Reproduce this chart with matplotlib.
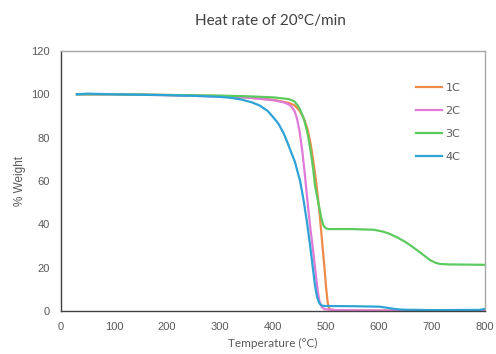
import matplotlib
matplotlib.use("Agg")
import matplotlib.pyplot as plt

# --- data ---
t_1c = [30, 100, 200, 300, 350, 400, 430, 440, 450, 458, 465, 471, 476, 480, 483, 487, 490,
        494, 497, 500, 503, 506, 520, 600, 700, 800]
w_1c = [100, 100, 99.7, 99.2, 98.6, 97.5, 96, 95, 92.5, 89, 84, 77, 69, 62, 56, 47, 39,
        28, 20, 11, 4, 0.8, 0.3, 0.2, 0.2, 0.3]

t_2c = [30, 100, 200, 300, 350, 400, 420, 430, 436, 441, 445, 450, 455, 460, 464, 470, 476,
        481, 485, 488, 492, 497, 520, 590, 800]
w_2c = [100, 100, 99.6, 99, 98.5, 97.3, 96.3, 95.3, 94, 92, 89, 83, 74, 63, 53, 39, 27,
        16, 8, 4, 1.8, 0.8, 0.4, 0.2, 0.1]

t_3c = [30, 100, 200, 300, 350, 400, 430, 440, 446, 451, 456, 460, 466, 472, 476, 479, 483,
        487, 491, 495, 499, 505, 550, 590, 608, 620, 634, 650, 662, 672, 684, 696, 707,
        715, 730, 800]
w_3c = [100, 100, 99.7, 99.4, 99.1, 98.6, 97.8, 96.8, 95, 93, 90, 87, 81, 72, 65, 58, 53,
        48, 43, 39.5, 38.2, 37.8, 37.8, 37.5, 36.6, 35.6, 34, 31.8, 29.8, 28, 25.8, 23.5, 22.2,
        21.7, 21.5, 21.3]

t_4c = [30, 50, 100, 200, 250, 300, 320, 340, 360, 375, 390, 400, 410, 420, 426, 433, 441,
        451, 457, 464, 470, 475, 479, 483, 487, 491, 497, 550, 600, 615, 630, 645, 700,
        790, 800]
w_4c = [100, 100.3, 100, 99.6, 99.3, 98.8, 98.4, 97.6, 96.3, 94.8, 92.3, 89.5, 86.5, 82, 78.5,
        74, 69, 60, 52, 41, 30, 20, 12, 6.5, 3.8, 2.6, 2.3, 2.2, 2.0, 1.5, 0.9, 0.6, 0.4,
        0.5, 1.0]

series = [("1C", t_1c, w_1c, "#ee8a4a"),
          ("2C", t_2c, w_2c, "#e07ad8"),
          ("3C", t_3c, w_3c, "#5ccb5f"),
          ("4C", t_4c, w_4c, "#2ea3d6")]

fig = plt.figure(figsize=(4.96, 3.54), dpi=100)
ax = fig.add_axes([0.123, 0.1215, 0.855, 0.7345])

for name, t, w, c in series:
    ax.plot(t, w, color=c, lw=1.6, label=name)

ax.set_xlim(0, 800)
ax.set_ylim(0, 120)
ax.set_xticks(range(0, 801, 100))
ax.set_yticks(range(0, 121, 20))
ax.tick_params(length=0, labelsize=8, labelcolor="#595959", pad=8)
for lab in ax.get_xticklabels() + ax.get_yticklabels():
    lab.set_family("Liberation Sans")

for side in ["left", "bottom"]:
    ax.spines[side].set_color("#404040")
for side in ["top", "right"]:
    ax.spines[side].set_color("#a6a6a6")
for s in ax.spines.values():
    s.set_linewidth(1.0)

ax.set_xlabel("Temperature (°C)", fontsize=8.5, color="#595959", family="Lato", labelpad=4)
ax.set_ylabel("% Weight", fontsize=8.5, color="#595959", family="Liberation Sans", labelpad=4)
fig.text(0.545, 0.94, "Heat rate of 20°C/min", ha="center", va="center",
         fontsize=11, color="#404040", family="Lato")

leg = ax.legend(loc="upper right", bbox_to_anchor=(0.965, 0.915), frameon=False,
                fontsize=8, handlelength=2.3, handletextpad=0.3, labelspacing=1.17,
                labelcolor="#595959")

fig.savefig("out.png", dpi=100)
